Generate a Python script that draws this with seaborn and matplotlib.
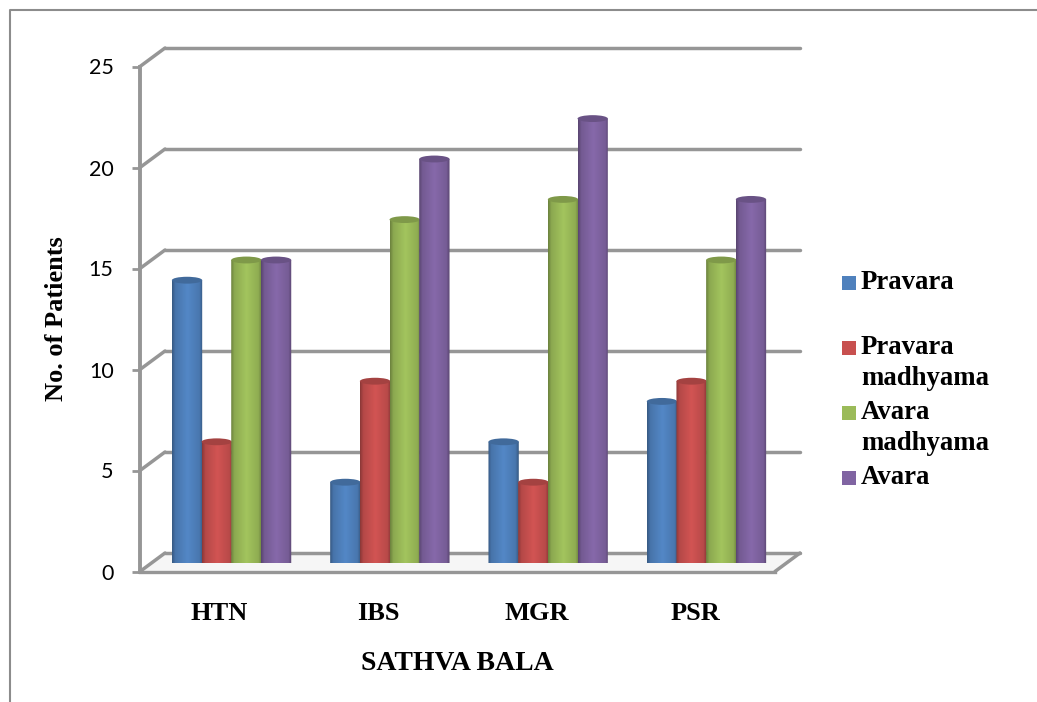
import numpy as np
import pandas as pd
import matplotlib
matplotlib.use('Agg')
import matplotlib.pyplot as plt
import seaborn as sns
from matplotlib.colors import to_rgb
from matplotlib.lines import Line2D
from matplotlib.patches import Ellipse, PathPatch, Polygon, Rectangle
from matplotlib.path import Path
from matplotlib.transforms import IdentityTransform

# data
groups = ['HTN', 'IBS', 'MGR', 'PSR']
pravara = [14, 4, 6, 8]
pravara_madhyama = [6, 9, 4, 9]
avara_madhyama = [15, 17, 18, 15]
avara = [15, 20, 22, 18]
series_names = ['Pravara', 'Pravara\nmadhyama', 'Avara\nmadhyama', 'Avara']
series_colors = ['#4F81BD', '#C8504F', '#9BBB59', '#8064A2']
y_ticks = [0, 5, 10, 15, 20, 25]

W, H = 1037, 702
GREY = '#969696'
SERIF = 'Liberation Serif'

sns.set_theme(style='white')
plt.rcParams['font.family'] = ['Lato', 'DejaVu Sans']

df = pd.DataFrame({
    'group': groups * 4,
    'patients': pravara + pravara_madhyama + avara_madhyama + avara,
    'bala': [n for n in series_names for _ in groups],
})

fig = plt.figure(figsize=(W / 100, H / 100), dpi=100, facecolor='white')


def box(x0, y0, x1, y1):
    # pixel box (top-left origin) to figure fractions
    return [x0 / W, 1 - y1 / H, (x1 - x0) / W, (y1 - y0) / H]


# three planes of the fake 3d chart: back wall, bars, front axis
back = fig.add_axes(box(165, 48, 800, 553), zorder=0)
ax = fig.add_axes(box(140, 66.5, 775, 571.5), zorder=1)
bars = fig.add_axes(box(152.4, 58, 785.6, 563), zorder=2)

for a in (back, ax, bars):
    a.set_xlim(-0.5, 3.5)
    a.set_ylim(0, 25)
    a.patch.set_visible(False)

# back wall
back.set_yticks(y_ticks)
back.set_xticks([])
back.tick_params(left=False, labelleft=False)
back.grid(axis='y', color=GREY, lw=2.5)
for s in back.spines.values():
    s.set_visible(False)
for line in back.get_ygridlines():
    line.set_clip_on(False)

# front axis
ax.set_xticks(range(4))
ax.set_xticklabels(groups, family=SERIF, weight='bold', fontsize=19, color='black')
ax.set_yticks(y_ticks)
ax.tick_params(axis='y', length=6, width=2, color=GREY, pad=13, labelsize=15.5,
               labelcolor='black', left=True)
ax.tick_params(axis='x', length=0, pad=22)
ax.set_xlabel('SATHVA BALA', family=SERIF, weight='bold', fontsize=20, labelpad=19, color='black')
ax.set_ylabel('No. of Patients', family=SERIF, weight='bold', fontsize=19, labelpad=15, color='black')
ax.spines['top'].set_visible(False)
ax.spines['right'].set_visible(False)
ax.spines['left'].set_color(GREY)
ax.spines['left'].set_linewidth(2.8)
ax.spines['bottom'].set_color(GREY)
ax.spines['bottom'].set_linewidth(2.4)

# bars through seaborn, then restyled as shaded cylinders
sns.barplot(data=df, x='group', y='patients', hue='bala', hue_order=series_names,
            palette=series_colors, saturation=1, width=0.75, gap=0, legend=False,
            order=groups, ax=bars)
bars.set_xlim(-0.5, 3.5)
bars.set_ylim(0, 25)
bars.axis('off')

shade = np.interp(np.linspace(0, 1, 40), [0, 0.1, 0.5, 0.9, 1], [0.7, 0.9, 1.05, 0.92, 0.7])
cap_h = 0.34
for p in list(bars.patches):
    x, w, h = p.get_x(), p.get_width(), p.get_height()
    if h == 0:
        continue
    rgb = np.array(to_rgb(p.get_facecolor()))
    p.set_visible(False)
    z = 3 + x
    # slightly wider than the slot so neighbours touch
    x, w = x - 0.002, w + 0.004
    # body outline: straight sides and rounded bottom
    t = np.linspace(np.pi, 2 * np.pi, 30)
    xs = np.concatenate([x + w / 2 + w / 2 * np.cos(t), [x + w, x]])
    ys = np.concatenate([0.14 * np.sin(t), [h, h]])
    outline = Path(np.column_stack([xs, ys]))
    img = np.clip(shade[None, :, None] * rgb[None, None, :], 0, 1)
    im = bars.imshow(img, extent=[x, x + w, -0.2, h], aspect='auto', zorder=z, interpolation='bilinear')
    im.set_clip_path(PathPatch(outline, transform=bars.transData))
    im.set_clip_box(None)
    bars.add_patch(Ellipse((x + w / 2, h), w, cap_h, facecolor=rgb * 0.82, edgecolor='none',
                           zorder=z + 0.01, clip_on=False))
bars.set_xlim(-0.5, 3.5)
bars.set_ylim(0, 25)

fig.canvas.draw()

# floor, side wall and floor connectors
p0 = ax.transData.transform((-0.5, 0))
p1 = ax.transData.transform((3.5, 0))
p2 = back.transData.transform((3.5, 0))
p3 = back.transData.transform((-0.5, 0))
fig.add_artist(Polygon([p0, p1, p2, p3], transform=IdentityTransform(), facecolor='#f6f6f6',
                       edgecolor='none', zorder=-1))
for v in y_ticks:
    fx, fy = ax.transData.transform((-0.5, v))
    bx, by = back.transData.transform((-0.5, v))
    fig.add_artist(Line2D([fx, bx], [fy, by], transform=IdentityTransform(), color=GREY,
                          lw=2.5, zorder=0))
fig.add_artist(Line2D([p1[0], p2[0]], [p1[1], p2[1]], transform=IdentityTransform(), color=GREY,
                      lw=2.5, zorder=0))

# outer frame of the picture (left and top only)
fig.add_artist(Line2D([10 / W, 10 / W, 1], [0, 1 - 10 / H, 1 - 10 / H], transform=fig.transFigure,
                      color='#8c8c8c', lw=1.5))

# legend, laid out like the original (swatch next to the first line)
legend_y = [283, 348, 413, 478]
for name, color, ly in zip(series_names, series_colors, legend_y):
    fig.add_artist(Rectangle((842 / W, 1 - (ly + 7) / H), 14 / W, 14 / H, transform=fig.transFigure,
                             facecolor=color, edgecolor='none'))
    fig.text(861 / W, 1 - (ly - 13) / H, name, family=SERIF, weight='bold', fontsize=19.3,
             color='black', va='top', ha='left', linespacing=1.33)

fig.savefig('out.png', dpi=100, facecolor='white')
